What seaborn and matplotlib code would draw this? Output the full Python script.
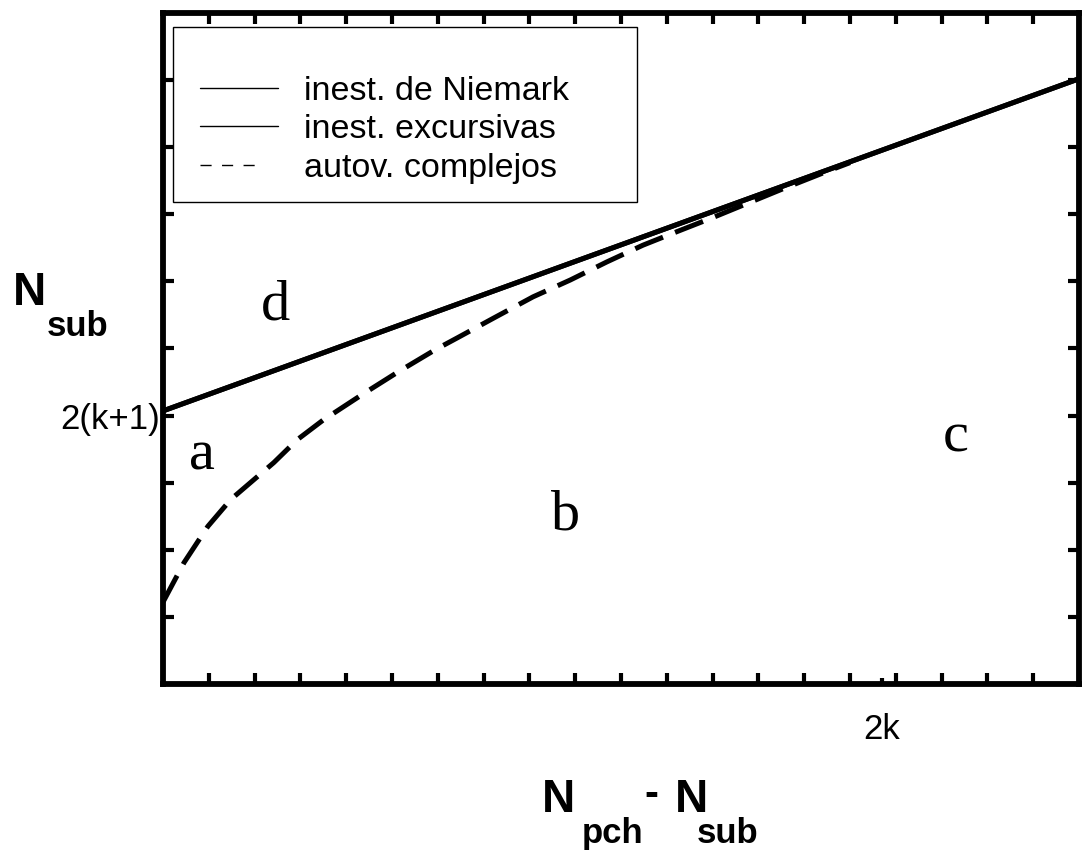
import matplotlib
matplotlib.use("Agg")
import matplotlib.pyplot as plt
from matplotlib.lines import Line2D
from matplotlib.patches import Rectangle
import seaborn as sns

# Stability boundaries in the (N_pch - N_sub, N_sub) plane, arbitrary units
x_niemark = [0.0, 20.0]
y_niemark = [4.07, 9.02]

x_excursivas = [0.0, 20.0]
y_excursivas = [4.07, 9.02]

x_complejos = [0.0, 0.07, 0.46, 0.98, 1.48, 2.42, 2.93, 3.49, 4.34, 5.13, 5.94,
               6.43, 7.21, 8.08, 8.89, 9.69, 10.48, 11.29, 12.0, 12.75, 13.5, 14.5, 15.0]
y_complejos = [1.22, 1.31, 1.81, 2.35, 2.75, 3.30, 3.64, 3.93, 4.31, 4.65, 4.98,
               5.16, 5.45, 5.77, 6.02, 6.29, 6.54, 6.76, 6.95, 7.16, 7.37, 7.64, 7.77]

legend_labels = ["inest. de Niemark", "inest. excursivas", "autov. complejos"]
region_labels = ["a", "b", "c", "d"]
region_pos = [(0.85, 3.41), (8.78, 2.51), (17.3, 3.67), (2.45, 5.64)]

ytick_vals = list(range(1, 10))
ytick_text = ["" if v != 4 else "2(k+1)" for v in ytick_vals]
xtick_vals = list(range(1, 20))
xlabel_pos = [15.7]
xlabel_text = ["2k"]

sns.set_theme(style="white")
plt.rcParams["font.family"] = ["Liberation Sans", "DejaVu Sans"]

W, H = 1082, 852
fig = plt.figure(figsize=(W / 100, H / 100), dpi=100)
left, right, top, bottom = 163, 1079, 13, 684
ax = fig.add_axes([left / W, 1 - bottom / H, (right - left) / W, (bottom - top) / H])

sns.lineplot(x=x_niemark, y=y_niemark, ax=ax, color="black", lw=3.6, legend=False)
sns.lineplot(x=x_excursivas, y=y_excursivas, ax=ax, color="black", lw=3.6, legend=False)
sns.lineplot(x=x_complejos, y=y_complejos, ax=ax, color="black", lw=3.6,
             linestyle=(0, (6.0, 2.6)), legend=False)

ax.set_xlim(0, 20)
ax.set_ylim(0, 10)

for sp in ax.spines.values():
    sp.set_linewidth(4.2)
    sp.set_color("black")

ax.set_xticks(xtick_vals)
ax.set_xticklabels([""] * len(xtick_vals))
ax.set_xticks(xlabel_pos, labels=xlabel_text, minor=True)
ax.set_yticks(ytick_vals)
ax.set_yticklabels(ytick_text)

ax.tick_params(which="major", direction="in", length=8, width=3, color="black",
               labelcolor="black", top=True, bottom=True, left=True, right=True,
               labelsize=25, pad=2)
ax.tick_params(which="minor", axis="x", direction="in", length=4, width=3, color="black",
               labelcolor="black", top=False, bottom=True, labelsize=25, pad=21)
ax.grid(False)

def ax_frac(px, py):
    return (px - left) / (right - left), (bottom - py) / (bottom - top)

# legend box
box_l, box_r, box_t, box_b = 173, 637, 27, 202
bx, by = ax_frac(box_l, box_b)
ax.add_patch(Rectangle((bx, by), (box_r - box_l) / (right - left),
                       (box_b - box_t) / (bottom - top), transform=ax.transAxes,
                       facecolor="white", edgecolor="black", lw=1.0,
                       zorder=4, clip_on=False))

handles = [Line2D([], [], color="black", lw=1.0),
           Line2D([], [], color="black", lw=1.0),
           Line2D([], [], color="black", lw=1.0, linestyle=(0, (8, 7.5, 8, 7.5, 8, 40)))]
leg = ax.legend(handles, legend_labels, loc="upper left",
                bbox_to_anchor=ax_frac(box_l, box_t + 22),
                fontsize=24.5, frameon=False, handlelength=2.3,
                handletextpad=0.74, labelspacing=0.21, borderpad=0.8,
                borderaxespad=0, labelcolor="black")
leg.set_zorder(5)

for lab, (xv, yv) in zip(region_labels, region_pos):
    ax.text(xv, yv, lab, fontsize=42, family="Liberation Serif",
            ha="center", va="center", color="black")

def ftext(px, py, s, **kw):
    fig.text(px / W, 1 - py / H, s, color="black", **kw)

# y-axis label N_sub
ftext(13, 305, "N", fontsize=33, fontweight="bold", ha="left", va="baseline")
ftext(47, 336, "sub", fontsize=25, fontweight="bold", ha="left", va="baseline")
# x-axis label N_pch - N_sub
ftext(542, 812, "N", fontsize=33, fontweight="bold", ha="left", va="baseline")
ftext(582, 843, "pch", fontsize=25, fontweight="bold", ha="left", va="baseline")
ftext(644, 806, "-", fontsize=30, fontweight="bold", ha="left", va="baseline")
ftext(675, 812, "N", fontsize=33, fontweight="bold", ha="left", va="baseline")
ftext(697, 843, "sub", fontsize=25, fontweight="bold", ha="left", va="baseline")

fig.savefig("out.png", dpi=100, facecolor="white")
